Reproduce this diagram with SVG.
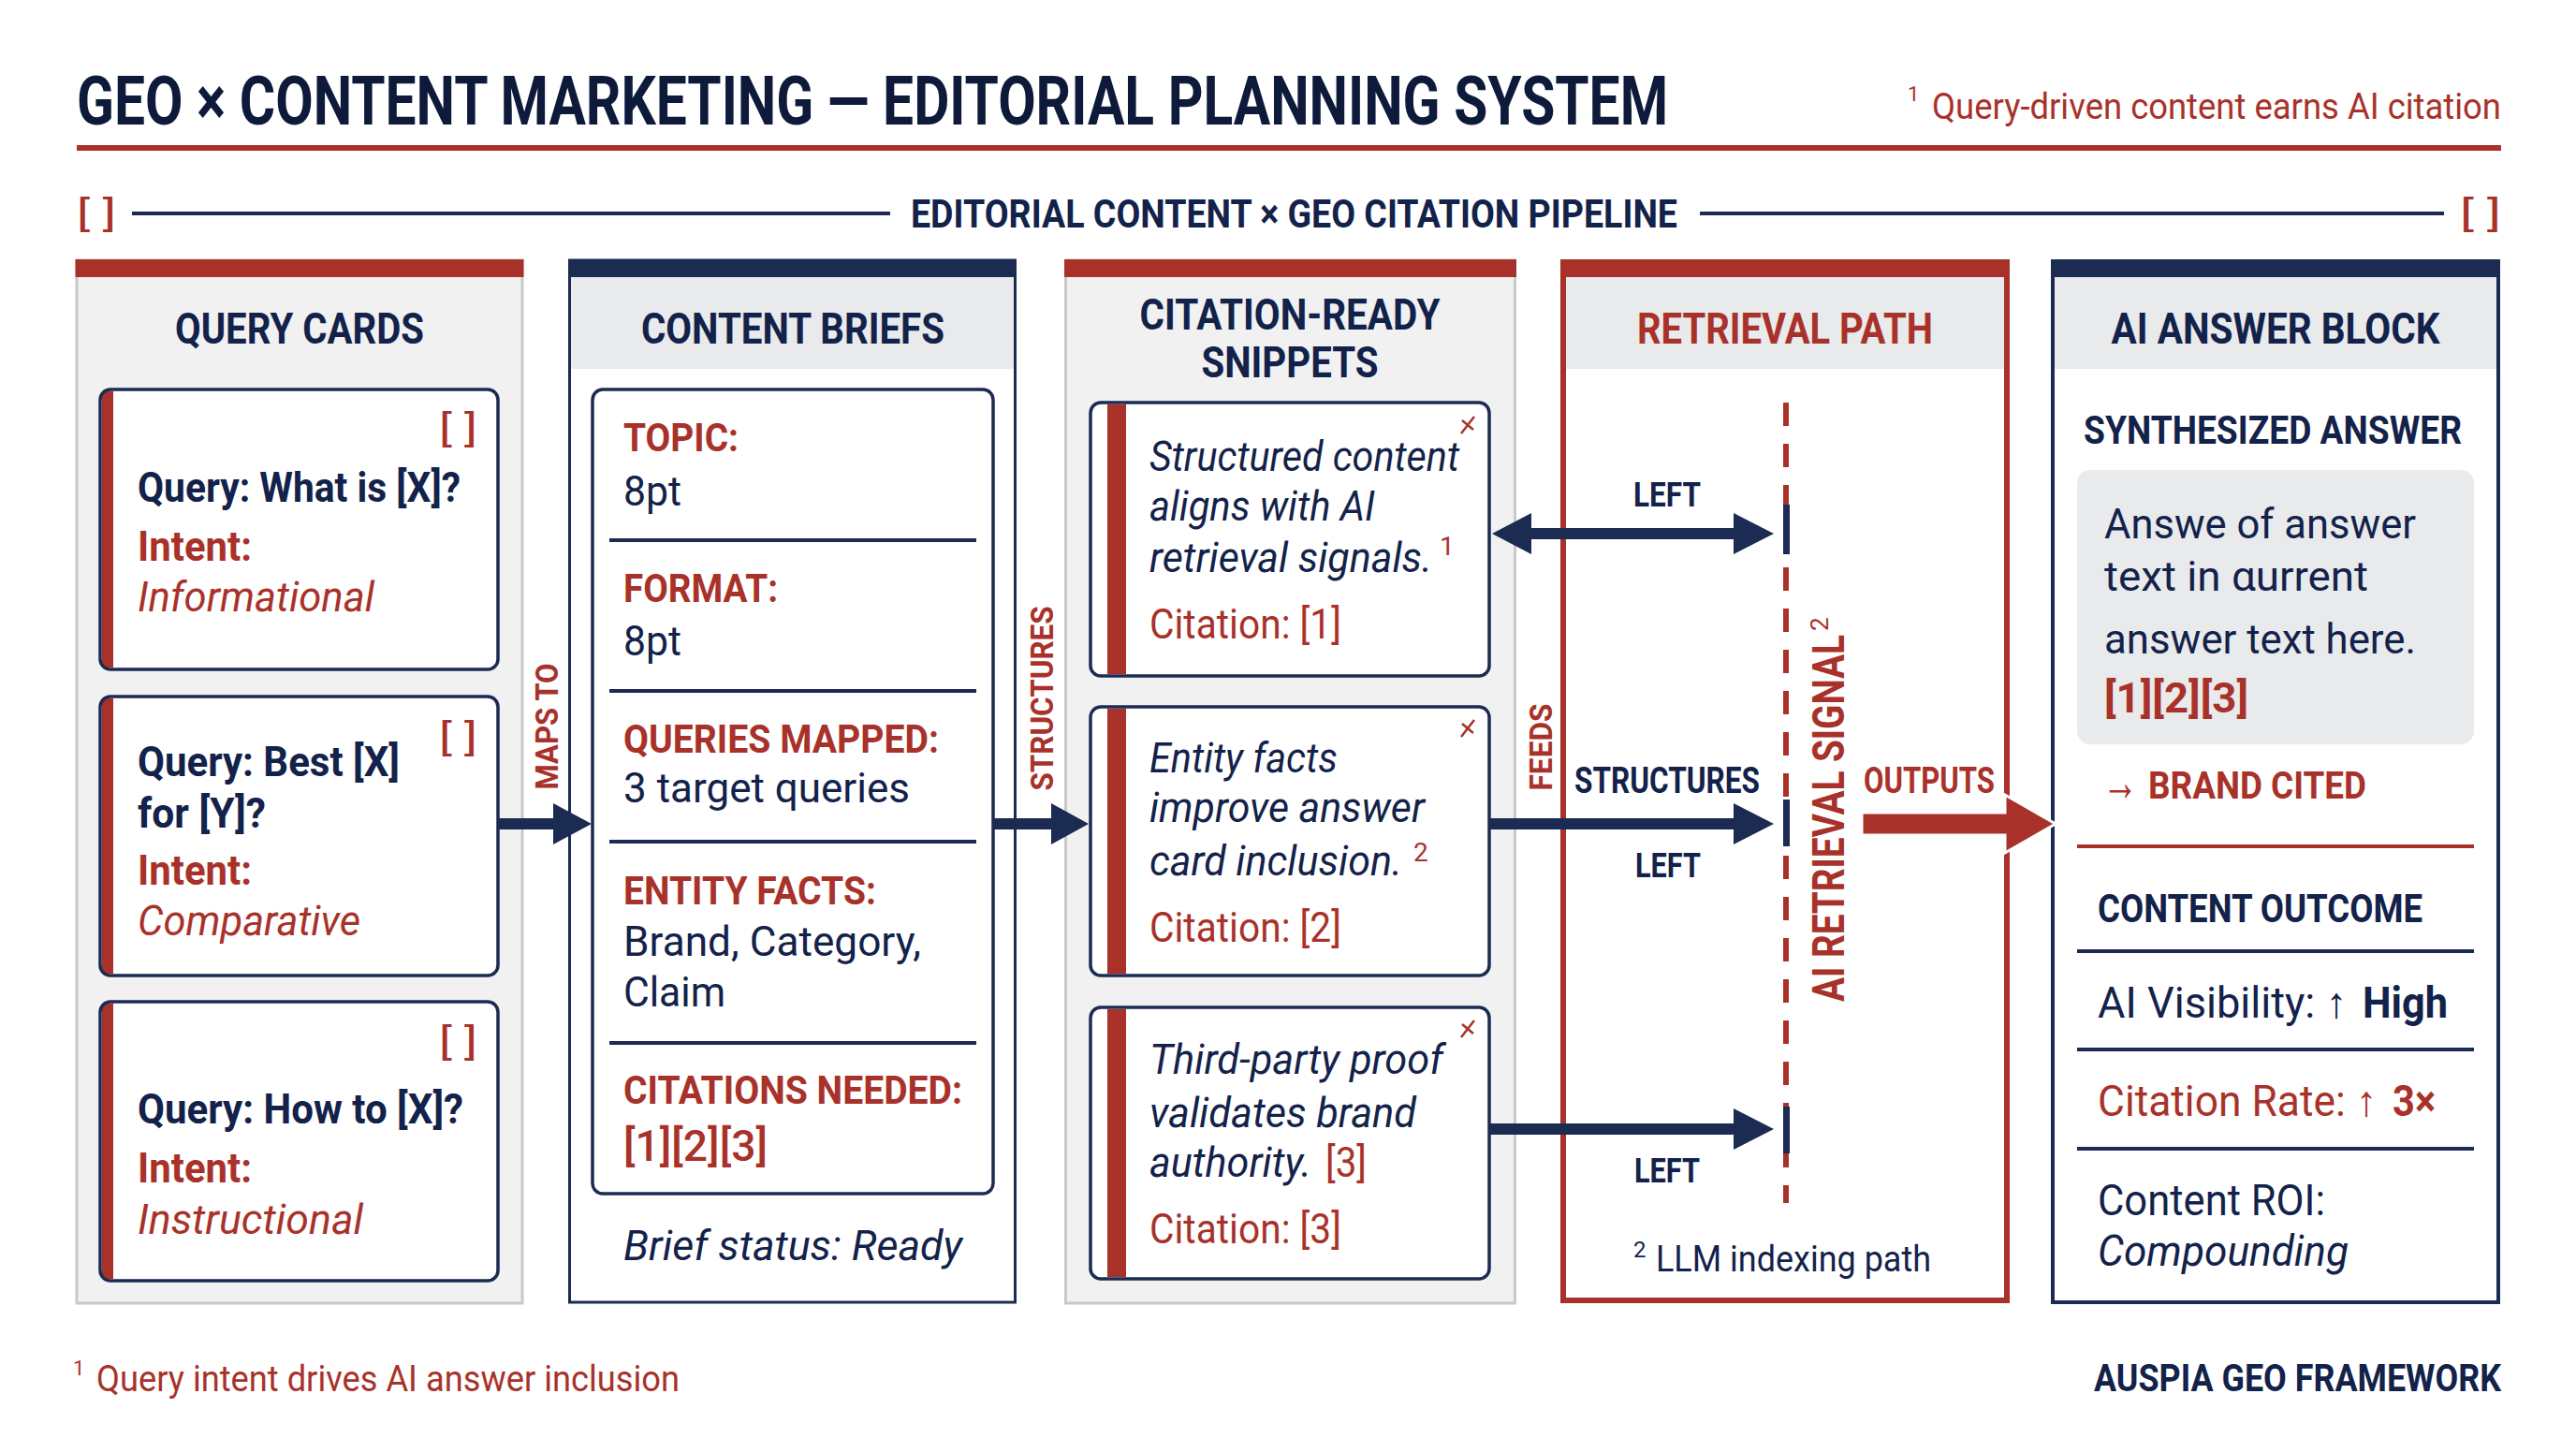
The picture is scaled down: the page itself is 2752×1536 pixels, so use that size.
<svg xmlns="http://www.w3.org/2000/svg" width="2752" height="1536" viewBox="0 0 2752 1536">
<style>
text{font-family:Roboto,"Liberation Sans","DejaVu Sans",sans-serif}
.b{font-weight:700}
.i{font-style:italic}
.nv{fill:#13224a}
.rd{fill:#a8322a}
.col-grey{fill:#f1f1f2;stroke:#c9c9cb;stroke-width:3}
.band{fill:#e9eaec}
.card{fill:#ffffff;stroke:#1b2b52;stroke-width:3.5}
.div-n{stroke:#1b2b52;stroke-width:4}
.div-r{stroke:#a8322a;stroke-width:4}
.shaft{fill:#1b2b52}
</style>
<rect width="2752" height="1536" fill="#ffffff"/>

<g id="title">
<text x="82" y="133" font-size="72" class="b" fill="#0e1a3a" textLength="1700" lengthAdjust="spacingAndGlyphs">GEO × CONTENT MARKETING — EDITORIAL PLANNING SYSTEM</text>
<text x="2038" y="108" font-size="22" class="rd">1</text>
<text x="2064" y="127" font-size="38" class="rd" textLength="608" lengthAdjust="spacingAndGlyphs">Query-driven content earns AI citation</text>
<rect x="82" y="155" width="2590" height="6" fill="#a8322a"/>
</g>

<g id="pipeline-header">
<text x="82" y="242" font-size="38" class="rd" textLength="42" lengthAdjust="spacingAndGlyphs">[ ]</text>
<line x1="141" y1="228" x2="951" y2="228" stroke="#1b2b52" stroke-width="4"/>
<text x="973" y="243" font-size="42" class="b nv" textLength="819" lengthAdjust="spacingAndGlyphs">EDITORIAL CONTENT × GEO CITATION PIPELINE</text>
<line x1="1816" y1="228" x2="2611" y2="228" stroke="#1b2b52" stroke-width="4"/>
<text x="2628" y="242" font-size="38" class="rd" textLength="44" lengthAdjust="spacingAndGlyphs">[ ]</text>
</g>

<!-- Column 1 -->
<g id="col-query-cards">
<rect x="82" y="278" width="476" height="1114" class="col-grey"/>
<rect x="80.5" y="277" width="479" height="19" fill="#a8322a"/>
<text x="320" y="367" font-size="46" class="b nv" text-anchor="middle" textLength="266" lengthAdjust="spacingAndGlyphs">QUERY CARDS</text>
</g>
<g id="query-card-1">
<rect x="107" y="416" width="425" height="299" rx="11" fill="#fff"/>
<rect x="109" y="418" width="12" height="295" fill="#a8322a"/>
<rect x="107" y="416" width="425" height="299" rx="11" fill="none" stroke="#1b2b52" stroke-width="3.5"/>
<text x="469" y="472" font-size="40" class="rd" textLength="41" lengthAdjust="spacingAndGlyphs">[ ]</text>
<text x="147" y="536" font-size="45" class="b nv" textLength="345" lengthAdjust="spacingAndGlyphs">Query: What is [X]?</text>
<text x="147" y="599" font-size="45" class="b rd" textLength="122" lengthAdjust="spacingAndGlyphs">Intent:</text>
<text x="147" y="653" font-size="45" class="i rd" textLength="253" lengthAdjust="spacingAndGlyphs">Informational</text>
</g>
<g id="query-card-2">
<rect x="107" y="744" width="425" height="298" rx="11" fill="#fff"/>
<rect x="109" y="746" width="12" height="294" fill="#a8322a"/>
<rect x="107" y="744" width="425" height="298" rx="11" fill="none" stroke="#1b2b52" stroke-width="3.5"/>
<text x="469" y="802" font-size="40" class="rd" textLength="41" lengthAdjust="spacingAndGlyphs">[ ]</text>
<text x="147" y="829" font-size="45" class="b nv" textLength="280" lengthAdjust="spacingAndGlyphs">Query: Best [X]</text>
<text x="147" y="884" font-size="45" class="b nv" textLength="137" lengthAdjust="spacingAndGlyphs">for [Y]?</text>
<text x="147" y="945" font-size="45" class="b rd" textLength="122" lengthAdjust="spacingAndGlyphs">Intent:</text>
<text x="147" y="999" font-size="45" class="i rd" textLength="238" lengthAdjust="spacingAndGlyphs">Comparative</text>
</g>
<g id="query-card-3">
<rect x="107" y="1070" width="425" height="298" rx="11" fill="#fff"/>
<rect x="109" y="1072" width="12" height="294" fill="#a8322a"/>
<rect x="107" y="1070" width="425" height="298" rx="11" fill="none" stroke="#1b2b52" stroke-width="3.5"/>
<text x="469" y="1127" font-size="40" class="rd" textLength="41" lengthAdjust="spacingAndGlyphs">[ ]</text>
<text x="147" y="1200" font-size="45" class="b nv" textLength="348" lengthAdjust="spacingAndGlyphs">Query: How to [X]?</text>
<text x="147" y="1263" font-size="45" class="b rd" textLength="122" lengthAdjust="spacingAndGlyphs">Intent:</text>
<text x="147" y="1318" font-size="45" class="i rd" textLength="241" lengthAdjust="spacingAndGlyphs">Instructional</text>
</g>

<!-- Column 2 -->
<g id="col-content-briefs">
<rect x="608.5" y="278" width="476" height="1113" fill="#fff" stroke="#1b2b52" stroke-width="3"/>
<rect x="610" y="296" width="473" height="98" class="band"/>
<rect x="607" y="277" width="479" height="19" fill="#1b2b52"/>
<text x="847" y="367" font-size="46" class="b nv" text-anchor="middle" textLength="324" lengthAdjust="spacingAndGlyphs">CONTENT BRIEFS</text>
<rect x="633" y="416" width="428" height="859" rx="11" class="card"/>
<text x="666" y="482" font-size="43" class="b rd" textLength="123" lengthAdjust="spacingAndGlyphs">TOPIC:</text>
<text x="666" y="540" font-size="45" class="nv" textLength="62" lengthAdjust="spacingAndGlyphs">8pt</text>
<line x1="651" y1="577" x2="1043" y2="577" class="div-n"/>
<text x="666" y="643" font-size="43" class="b rd" textLength="165" lengthAdjust="spacingAndGlyphs">FORMAT:</text>
<text x="666" y="700" font-size="45" class="nv" textLength="62" lengthAdjust="spacingAndGlyphs">8pt</text>
<line x1="651" y1="738" x2="1043" y2="738" class="div-n"/>
<text x="666" y="804" font-size="43" class="b rd" textLength="337" lengthAdjust="spacingAndGlyphs">QUERIES MAPPED:</text>
<text x="666" y="857" font-size="45" class="nv" textLength="306" lengthAdjust="spacingAndGlyphs">3 target queries</text>
<line x1="651" y1="899" x2="1043" y2="899" class="div-n"/>
<text x="666" y="966" font-size="43" class="b rd" textLength="270" lengthAdjust="spacingAndGlyphs">ENTITY FACTS:</text>
<text x="666" y="1021" font-size="45" class="nv" textLength="318" lengthAdjust="spacingAndGlyphs">Brand, Category,</text>
<text x="666" y="1075" font-size="45" class="nv" textLength="109" lengthAdjust="spacingAndGlyphs">Claim</text>
<line x1="651" y1="1114" x2="1043" y2="1114" class="div-n"/>
<text x="666" y="1179" font-size="43" class="b rd" textLength="362" lengthAdjust="spacingAndGlyphs">CITATIONS NEEDED:</text>
<text x="666" y="1240" font-size="47" class="rd" font-weight="500" textLength="154" lengthAdjust="spacingAndGlyphs">[1][2][3]</text>
<text x="666" y="1346" font-size="45" class="i nv" textLength="362" lengthAdjust="spacingAndGlyphs">Brief status: Ready</text>
</g>

<!-- Column 3 -->
<g id="col-snippets">
<rect x="1138.5" y="278" width="480" height="1114" class="col-grey"/>
<rect x="1137" y="277" width="483" height="19" fill="#a8322a"/>
<text x="1378" y="352" font-size="46" class="b nv" text-anchor="middle" textLength="321" lengthAdjust="spacingAndGlyphs">CITATION-READY</text>
<text x="1378" y="403" font-size="46" class="b nv" text-anchor="middle" textLength="189" lengthAdjust="spacingAndGlyphs">SNIPPETS</text>
</g>
<g id="snippet-1">
<rect x="1165" y="430" width="426" height="292" rx="11" class="card"/>
<rect x="1183" y="432" width="20" height="288" fill="#a8322a"/>
<path d="M1561 463 L1575 445 M1562 449 L1574 459" stroke="#a8322a" stroke-width="2.5" fill="none"/>
<text x="1228" y="503" font-size="45" class="i nv" textLength="331" lengthAdjust="spacingAndGlyphs">Structured content</text>
<text x="1228" y="556" font-size="45" class="i nv" textLength="241" lengthAdjust="spacingAndGlyphs">aligns with AI</text>
<text x="1228" y="611" font-size="45" class="i nv" textLength="302" lengthAdjust="spacingAndGlyphs">retrieval signals.</text>
<text x="1538" y="593" font-size="28" class="rd">1</text>
<text x="1228" y="682" font-size="45" class="rd" textLength="205" lengthAdjust="spacingAndGlyphs">Citation: [1]</text>
</g>
<g id="snippet-2">
<rect x="1165" y="755" width="426" height="287" rx="11" class="card"/>
<rect x="1183" y="757" width="20" height="283" fill="#a8322a"/>
<path d="M1561 787 L1575 769 M1562 773 L1574 783" stroke="#a8322a" stroke-width="2.5" fill="none"/>
<text x="1228" y="825" font-size="45" class="i nv" textLength="201" lengthAdjust="spacingAndGlyphs">Entity facts</text>
<text x="1228" y="878" font-size="45" class="i nv" textLength="294" lengthAdjust="spacingAndGlyphs">improve answer</text>
<text x="1228" y="935" font-size="45" class="i nv" textLength="270" lengthAdjust="spacingAndGlyphs">card inclusion.</text>
<text x="1510" y="920" font-size="28" class="rd">2</text>
<text x="1228" y="1006" font-size="45" class="rd" textLength="205" lengthAdjust="spacingAndGlyphs">Citation: [2]</text>
</g>
<g id="snippet-3">
<rect x="1165" y="1076" width="426" height="290" rx="11" class="card"/>
<rect x="1183" y="1078" width="20" height="286" fill="#a8322a"/>
<path d="M1561 1108 L1575 1090 M1562 1094 L1574 1104" stroke="#a8322a" stroke-width="2.5" fill="none"/>
<text x="1228" y="1147" font-size="45" class="i nv" textLength="314" lengthAdjust="spacingAndGlyphs">Third-party proof</text>
<text x="1228" y="1204" font-size="45" class="i nv" textLength="285" lengthAdjust="spacingAndGlyphs">validates brand</text>
<text x="1228" y="1257" font-size="45" class="i nv" textLength="173" lengthAdjust="spacingAndGlyphs">authority.</text>
<text x="1416" y="1257" font-size="45" class="rd" textLength="44" lengthAdjust="spacingAndGlyphs">[3]</text>
<text x="1228" y="1328" font-size="45" class="rd" textLength="205" lengthAdjust="spacingAndGlyphs">Citation: [3]</text>
</g>

<!-- Column 4 -->
<g id="col-retrieval-path">
<rect x="1670" y="280" width="474" height="1109" fill="#fff" stroke="#a8322a" stroke-width="6"/>
<rect x="1673" y="296" width="468" height="98" class="band"/>
<rect x="1667" y="277" width="480" height="19" fill="#a8322a"/>
<text x="1907" y="367" font-size="46" class="b rd" text-anchor="middle" textLength="316" lengthAdjust="spacingAndGlyphs">RETRIEVAL PATH</text>
<line x1="1908" y1="430" x2="1908" y2="1285" stroke="#a8322a" stroke-width="6" stroke-dasharray="25 19"/>
<rect x="1905" y="539" width="7" height="53" fill="#1b2b52"/>
<rect x="1905" y="854" width="7" height="50" fill="#1b2b52"/>
<rect x="1905" y="1182" width="7" height="50" fill="#1b2b52"/>
<text transform="translate(1970,1070) rotate(-90)" font-size="48" class="b rd" textLength="392" lengthAdjust="spacingAndGlyphs">AI RETRIEVAL SIGNAL</text>
<text transform="translate(1953,674) rotate(-90)" font-size="26" class="rd">2</text>
<text x="1745" y="1343" font-size="24" class="nv">2</text>
<text x="1769" y="1358" font-size="38" class="nv" textLength="294" lengthAdjust="spacingAndGlyphs">LLM indexing path</text>
</g>

<!-- Column 5 -->
<g id="col-ai-answer">
<rect x="2193" y="279" width="476" height="1112" fill="#fff" stroke="#1b2b52" stroke-width="4"/>
<rect x="2195" y="296" width="472" height="98" class="band"/>
<rect x="2191" y="277" width="480" height="19" fill="#1b2b52"/>
<text x="2431" y="367" font-size="46" class="b nv" text-anchor="middle" textLength="351" lengthAdjust="spacingAndGlyphs">AI ANSWER BLOCK</text>
<text x="2226" y="474" font-size="42" class="b nv" textLength="404" lengthAdjust="spacingAndGlyphs">SYNTHESIZED ANSWER</text>
<rect x="2219" y="502" width="424" height="293" rx="14" fill="#e9eaec"/>
<text x="2248" y="575" font-size="44" class="nv" textLength="333" lengthAdjust="spacingAndGlyphs">Answe of answer</text>
<text x="2248" y="631" font-size="44" class="nv" textLength="282" lengthAdjust="spacingAndGlyphs">text in αurrent</text>
<text x="2248" y="698" font-size="44" class="nv" textLength="333" lengthAdjust="spacingAndGlyphs">answer text here.</text>
<text x="2248" y="761" font-size="45" class="b rd" textLength="154" lengthAdjust="spacingAndGlyphs">[1][2][3]</text>
<text x="2246" y="855" font-size="58" class="b rd" font-family="'DejaVu Sans',sans-serif" textLength="38" lengthAdjust="spacingAndGlyphs">→</text>
<text x="2295" y="853" font-size="40" class="b rd" textLength="233" lengthAdjust="spacingAndGlyphs">BRAND CITED</text>
<line x1="2219" y1="904" x2="2643" y2="904" class="div-r"/>
<text x="2241" y="985" font-size="42" class="b nv" textLength="347" lengthAdjust="spacingAndGlyphs">CONTENT OUTCOME</text>
<line x1="2219" y1="1016" x2="2643" y2="1016" class="div-n"/>
<text x="2241" y="1087" font-size="46" class="nv" textLength="266" lengthAdjust="spacingAndGlyphs">AI Visibility: ↑</text>
<text x="2524" y="1087" font-size="46" class="b nv" textLength="91" lengthAdjust="spacingAndGlyphs">High</text>
<line x1="2219" y1="1121" x2="2643" y2="1121" class="div-n"/>
<text x="2241" y="1192" font-size="46" class="rd" textLength="298" lengthAdjust="spacingAndGlyphs">Citation Rate: ↑</text>
<text x="2556" y="1192" font-size="46" class="b rd" textLength="46" lengthAdjust="spacingAndGlyphs">3×</text>
<line x1="2219" y1="1227" x2="2643" y2="1227" class="div-n"/>
<text x="2241" y="1298" font-size="46" class="nv" textLength="243" lengthAdjust="spacingAndGlyphs">Content ROI:</text>
<text x="2241" y="1352" font-size="46" class="i nv" textLength="268" lengthAdjust="spacingAndGlyphs">Compounding</text>
</g>

<!-- Connectors -->
<g id="connectors">
<rect x="532" y="874" width="62" height="12" class="shaft"/>
<polygon points="591,858 632,880 591,902" class="shaft"/>
<text transform="translate(596,776) rotate(-90)" font-size="34" class="b rd" text-anchor="middle" textLength="135" lengthAdjust="spacingAndGlyphs">MAPS TO</text>

<rect x="1061" y="874" width="64" height="12" class="shaft"/>
<polygon points="1123,858 1163,880 1123,902" class="shaft"/>
<text transform="translate(1125,746) rotate(-90)" font-size="34" class="b rd" text-anchor="middle" textLength="197" lengthAdjust="spacingAndGlyphs">STRUCTURES</text>

<text transform="translate(1658,798) rotate(-90)" font-size="34" class="b rd" text-anchor="middle" textLength="93" lengthAdjust="spacingAndGlyphs">FEEDS</text>

<rect x="1634" y="564" width="220" height="12" class="shaft"/>
<polygon points="1636,548 1594,570 1636,592" class="shaft"/>
<polygon points="1852,548 1895,570 1852,592" class="shaft"/>
<text x="1781" y="541" font-size="37" class="b nv" text-anchor="middle" textLength="72" lengthAdjust="spacingAndGlyphs">LEFT</text>

<rect x="1591" y="874" width="263" height="12" class="shaft"/>
<polygon points="1852,858 1895,880 1852,902" class="shaft"/>
<text x="1682" y="847" font-size="38" class="b nv" textLength="198" lengthAdjust="spacingAndGlyphs">STRUCTURES</text>
<text x="1782" y="937" font-size="37" class="b nv" text-anchor="middle" textLength="70" lengthAdjust="spacingAndGlyphs">LEFT</text>

<rect x="1591" y="1200" width="263" height="12" class="shaft"/>
<polygon points="1852,1184 1895,1206 1852,1228" class="shaft"/>
<text x="1781" y="1263" font-size="37" class="b nv" text-anchor="middle" textLength="70" lengthAdjust="spacingAndGlyphs">LEFT</text>

<text x="1991" y="847" font-size="38" class="b rd" textLength="140" lengthAdjust="spacingAndGlyphs">OUTPUTS</text>
<polygon points="1989,868 2142,868 2142,849 2196,880 2142,911 2142,892 1989,892" fill="#a8322a" stroke="#ffffff" stroke-width="3" stroke-linejoin="miter"/>
</g>

<g id="footer">
<text x="78" y="1469" font-size="22" class="rd">1</text>
<text x="103" y="1486" font-size="38" class="rd" textLength="623" lengthAdjust="spacingAndGlyphs">Query intent drives AI answer inclusion</text>
<text x="2672" y="1486" font-size="40" class="b nv" text-anchor="end" textLength="435" lengthAdjust="spacingAndGlyphs">AUSPIA GEO FRAMEWORK</text>
</g>
</svg>
